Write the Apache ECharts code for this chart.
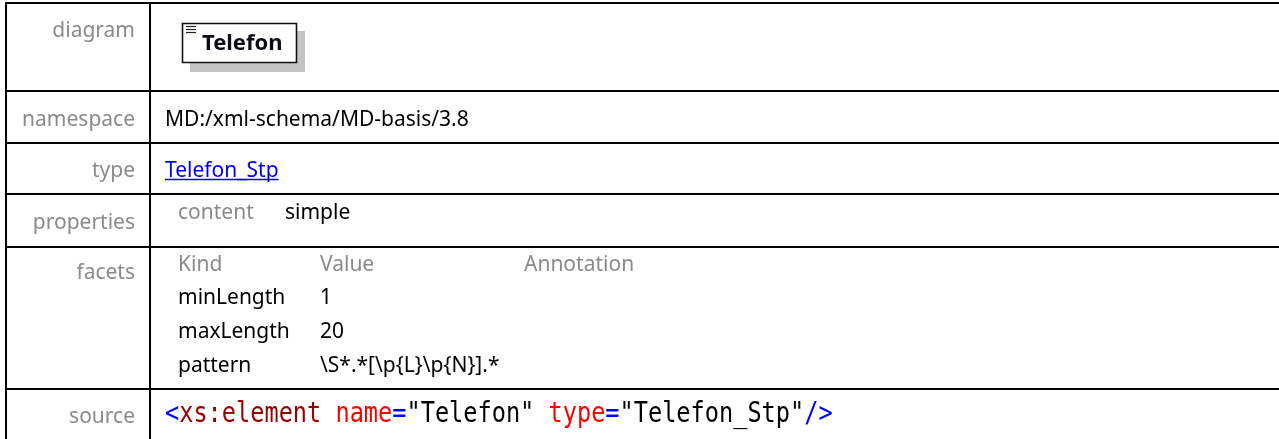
<!DOCTYPE html>
<html>
<head>
<meta charset="utf-8">
<script src="https://cdn.jsdelivr.net/npm/echarts@6/dist/echarts.min.js"></script>
<style>
html,body{margin:0;padding:0;background:#fff;}
#chart{width:1279px;height:439px;}
</style>
</head>
<body>
<div id="chart"></div>
<script>
// ---- content ----
const rowLabels = ['diagram', 'namespace', 'type', 'properties', 'facets', 'source'];
const elementName = 'Telefon';
const namespaceValue = 'MD:/xml-schema/MD-basis/3.8';
const typeValue = 'Telefon_Stp';
const propertyKeys = ['content'];
const propertyValues = ['simple'];
const facetHeaders = ['Kind', 'Value', 'Annotation'];
const facetKinds = ['minLength', 'maxLength', 'pattern'];
const facetValues = ['1', '20', '\\S*.*[\\p{L}\\p{N}].*'];
const facetAnnotations = ['', '', ''];
const sourceTokens = ['<', 'xs:element', ' ', 'name', '=', '"Telefon"', ' ', 'type', '=', '"Telefon_Stp"', '/>'];
const sourceKinds  = ['p', 't', 's', 'a', 'p', 'v', 's', 'a', 'p', 'v', 'p'];

// ---- layout / style ----
const W = 1279, H = 439;
const leftX = 6, divX = 150;
const rowLines = [3, 91, 143, 194, 247, 389];
const labelY = [31, 120, 171, 223, 273, 417];
const labelRight = 135;
const valX = 165;
const FONT = '"Noto Sans", sans-serif';
const FS = 21;
const grey = '#8a8a8a';

function measure(text, font) {
  const c = document.createElement('canvas').getContext('2d');
  c.font = font;
  return c.measureText(text).width;
}

const g = [];
// table lines
rowLines.forEach(y => g.push({type: 'line', shape: {x1: leftX, y1: y, x2: W, y2: y}, style: {stroke: '#000', lineWidth: 2}}));
g.push({type: 'line', shape: {x1: leftX, y1: rowLines[0] - 1, x2: leftX, y2: H}, style: {stroke: '#000', lineWidth: 2}});
g.push({type: 'line', shape: {x1: divX, y1: rowLines[0] - 1, x2: divX, y2: H}, style: {stroke: '#000', lineWidth: 2}});

// row labels
rowLabels.forEach((t, i) => g.push({type: 'text', style: {text: t, x: labelRight, y: labelY[i], align: 'right', verticalAlign: 'middle', fill: grey, font: FS + 'px ' + FONT}}));

// diagram box
g.push({type: 'rect', shape: {x: 190, y: 31, width: 115, height: 41}, style: {fill: '#c4c4c4'}});
g.push({type: 'rect', shape: {x: 182.5, y: 23.5, width: 114, height: 39}, style: {fill: '#fff', stroke: '#111', lineWidth: 1.6}});
[26.5, 29.5, 32.5].forEach(y => g.push({type: 'line', shape: {x1: 186, y1: y, x2: 196, y2: y}, style: {stroke: '#222', lineWidth: 1.2}}));
g.push({type: 'text', style: {text: elementName, x: 202, y: 44, verticalAlign: 'middle', fill: '#0d0d1a', font: 'bold 22px ' + FONT}});

// namespace
g.push({type: 'text', style: {text: namespaceValue, x: valX, y: labelY[1], verticalAlign: 'middle', fill: '#000', font: FS + 'px ' + FONT}});

// type link
const typeFont = FS + 'px ' + FONT;
const tw = measure(typeValue, typeFont);
g.push({type: 'text', style: {text: typeValue, x: valX, y: labelY[2], verticalAlign: 'middle', fill: '#0000ee', font: typeFont}});
g.push({type: 'line', shape: {x1: valX, y1: 179.5, x2: valX + tw, y2: 179.5}, style: {stroke: '#0000ee', lineWidth: 1.5}});

// properties
propertyKeys.forEach((k, i) => {
  g.push({type: 'text', style: {text: k, x: 178, y: 213, verticalAlign: 'middle', fill: grey, font: FS + 'px ' + FONT}});
  g.push({type: 'text', style: {text: propertyValues[i], x: 285, y: 213, verticalAlign: 'middle', fill: '#000', font: FS + 'px ' + FONT}});
});

// facets
const facetCols = [178, 320, 524];
const facetRowY = [265, 298, 332, 366];
facetHeaders.forEach((h, i) => g.push({type: 'text', style: {text: h, x: facetCols[i], y: facetRowY[0], verticalAlign: 'middle', fill: grey, font: FS + 'px ' + FONT}}));
facetKinds.forEach((k, i) => {
  const y = facetRowY[i + 1];
  g.push({type: 'text', style: {text: k, x: facetCols[0], y: y, verticalAlign: 'middle', fill: '#000', font: FS + 'px ' + FONT}});
  g.push({type: 'text', style: {text: facetValues[i], x: facetCols[1], y: y, verticalAlign: 'middle', fill: '#000', font: FS + 'px ' + FONT}});
  if (facetAnnotations[i]) g.push({type: 'text', style: {text: facetAnnotations[i], x: facetCols[2], y: y, verticalAlign: 'middle', fill: '#000', font: FS + 'px ' + FONT}});
});

// source (rich text, monospace, slightly tall glyphs)
const kindColor = {p: '#0000ff', t: '#990000', a: '#ff0000', v: '#000000', s: '#000000'};
const MONO = '"DejaVu Sans Mono", monospace';
const MFS = 23.6;
const rich = {};
Object.keys(kindColor).forEach(k => rich[k] = {fill: kindColor[k], font: MFS + 'px ' + MONO});
const srcText = sourceTokens.map((t, i) => '{' + sourceKinds[i] + '|' + t + '}').join('');
g.push({type: 'text', x: valX, y: 415, scaleY: 1.2, style: {text: srcText, rich: rich, x: 0, y: 0, verticalAlign: 'middle', font: MFS + 'px ' + MONO}});

const chart = echarts.init(document.getElementById('chart'), null, {renderer: 'canvas'});
chart.setOption({backgroundColor: '#fff', animation: false, graphic: {elements: g}});
</script>
</body>
</html>
